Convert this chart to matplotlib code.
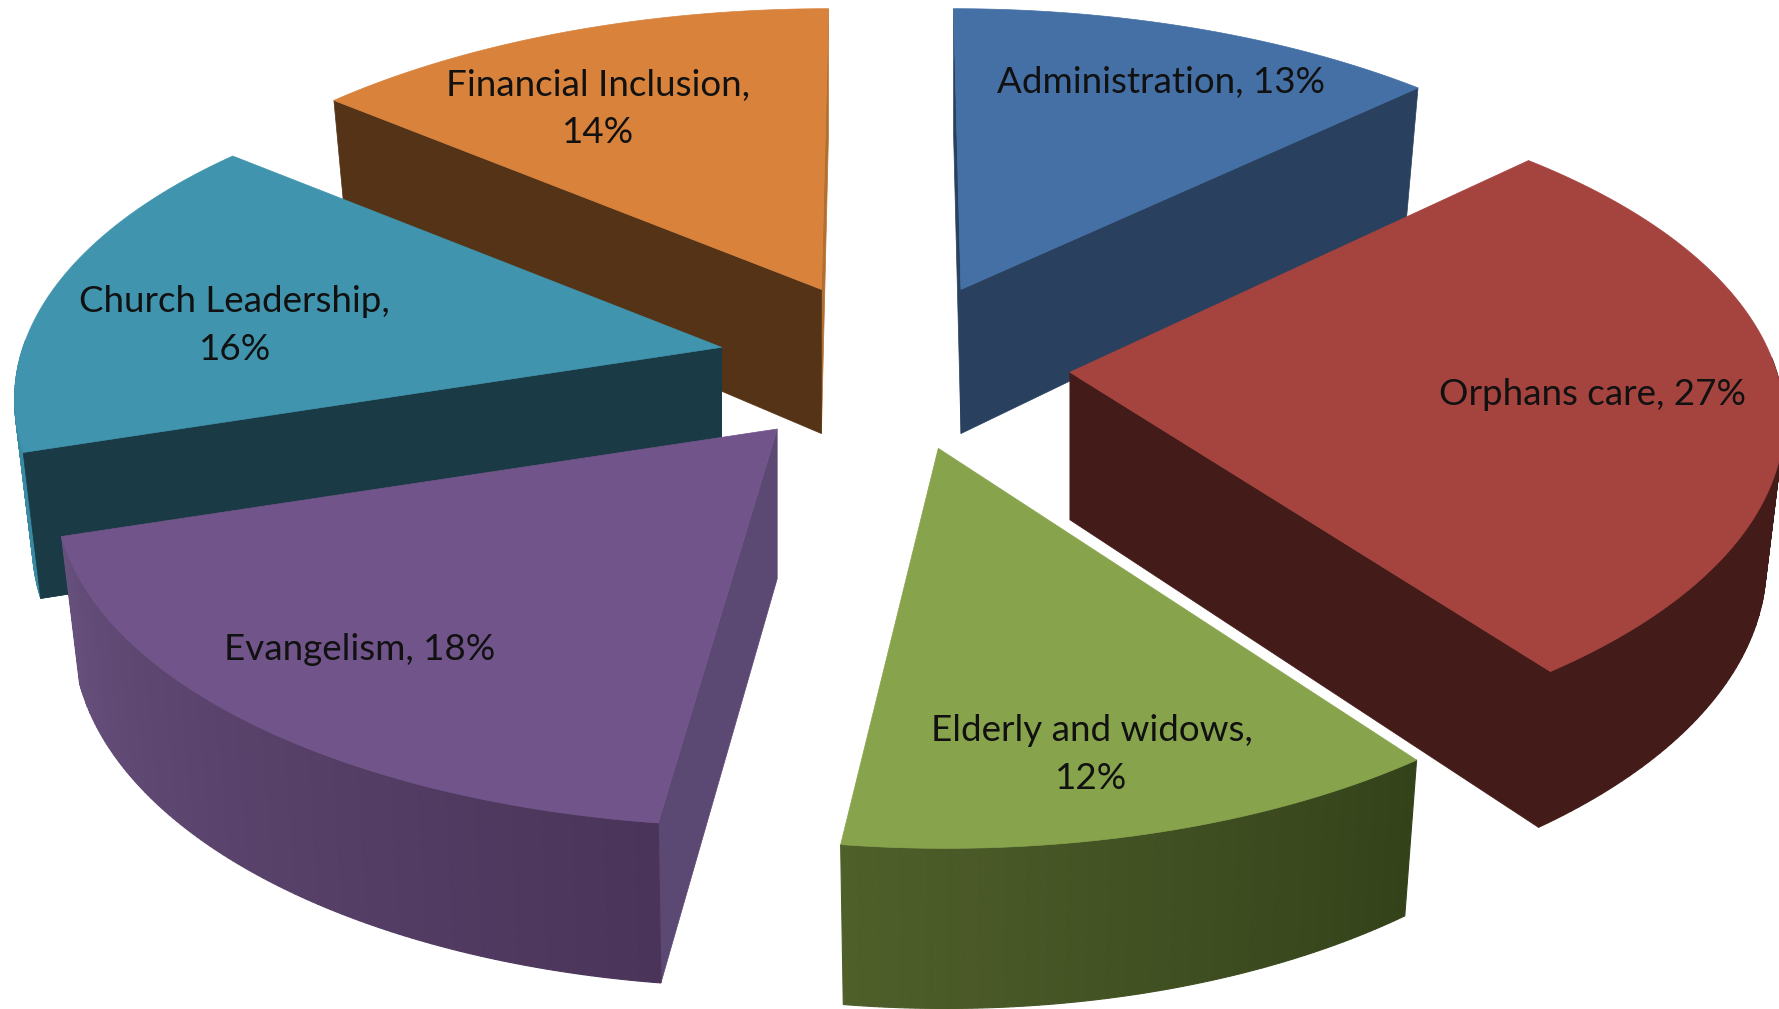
import numpy as np
import matplotlib
matplotlib.use("Agg")
import matplotlib.pyplot as plt
from matplotlib.colors import to_rgb

categories = ["Administration", "Orphans care", "Elderly and widows", "Evangelism", "Church Leadership", "Financial Inclusion"]
shares = [13, 27, 12, 18, 16, 14]

apex_x = [847, 943, 827, 685, 636, 724]
apex_y = [255, 328, 395, 378, 306, 255]
radius_x = [625, 620, 610, 625, 615, 625]
shear_x = [44, 0, 30, -50, 40, -42]
arc_dy = [0, -9, 2, 0, -2, 0]
apex_drop = [127, 130, 127, 132, 127, 127]
top_colors = ["#4470a6", "#a5433f", "#87a44c", "#71558a", "#4094ae", "#d8823c"]
rim_colors = [("#29415f", "#29415f"), ("#431b18", "#431b18"), ("#4f5f2a", "#34421a"),
              ("#66507c", "#4a3459"), ("#3a8aa3", "#3a8aa3"), ("#553317", "#553317")]
face_colors = ["#29415f", "#431b18", "#34421a", "#5b4873", "#1a3a45", "#553317"]
label_texts = ["Administration, 13%", "Orphans care, 27%", "Elderly and widows,\n12%", "Evangelism, 18%",
               "Church Leadership,\n16%", "Financial Inclusion,\n14%"]
label_x = [1023, 1404, 962, 317, 207, 527]
label_y = [73, 348, 665, 572, 287, 96]

B, K, H, SHRINK = 290, 0.1725, 124, 0.975

W, HT = 1779, 1009
fig = plt.figure(figsize=(W / 100, HT / 100), dpi=100, facecolor="white")
ax = fig.add_axes([0, 0, 1, 1])
ax.set_xlim(0, 1568)
ax.set_ylim(889, 0)
ax.axis("off")


def top(i, th):
    X, Y = np.sin(th), np.cos(th)
    f = 1 / (1 + K * Y)
    return (apex_x[i] + radius_x[i] * X * f + shear_x[i] * (f - 1),
            apex_y[i] + arc_dy[i] - B * Y * f)


def bot(i, th):
    X, Y = np.sin(th), np.cos(th)
    f = 1 / (1 + K * Y)
    return (apex_x[i] + SHRINK * radius_x[i] * X * f + shear_x[i] * (f - 1),
            apex_y[i] + arc_dy[i] - SHRINK * B * Y * f + H * f)


def mix(c1, c2, t):
    a, b = np.array(to_rgb(c1)), np.array(to_rgb(c2))
    return tuple(a + (b - a) * t)


def side(i, th, color):
    x1, y1 = top(i, th)
    x2, y2 = bot(i, th)
    ax.fill([apex_x[i], x1, x2, apex_x[i]], [apex_y[i], y1, y2, apex_y[i] + apex_drop[i]],
            color=color, lw=0.5)


edges = np.radians(np.concatenate([[0], np.cumsum(shares)]) * 3.6)

# painter's order: back slices first, then side slices, then front
order = [5, 0, 4, 1, 3, 2]
visible_edge = {0: 1, 1: 1, 3: 0, 4: 0, 5: 0}
for i in order:
    t0, t1 = edges[i], edges[i + 1]
    ths = np.linspace(t0, t1, 120)
    if i == 5:
        side(i, t1, "#b36f30")
    if i == 0:
        side(i, t0, "#29415f")
    if i in visible_edge:
        side(i, edges[i + visible_edge[i]], face_colors[i])
    # outer rim, only the part facing the viewer
    vis = ths[np.cos(ths) <= 0.02]
    for j in range(len(vis) - 1):
        a, b = vis[j], vis[j + 1]
        xt = [top(i, a)[0], top(i, b)[0], bot(i, b)[0], bot(i, a)[0]]
        yt = [top(i, a)[1], top(i, b)[1], bot(i, b)[1], bot(i, a)[1]]
        u = (j / (len(vis) - 2)) if len(vis) > 2 else 0
        if i in (2, 3):
            u = 1 - u
        ax.fill(xt, yt, color=mix(rim_colors[i][0], rim_colors[i][1], u), lw=0.8)
    if i == 4:
        side(i, edges[i], face_colors[i])
    # top face
    px, py = top(i, ths)
    ax.fill(np.r_[apex_x[i], px], np.r_[apex_y[i], py], color=top_colors[i], lw=0.5)
    ax.text(label_x[i], label_y[i], label_texts[i], ha="center", va="center", multialignment="center",
            fontsize=26.5, family="Lato", color="#111111", linespacing=1.55, zorder=10)

fig.savefig("out.png", dpi=100, facecolor="white")
